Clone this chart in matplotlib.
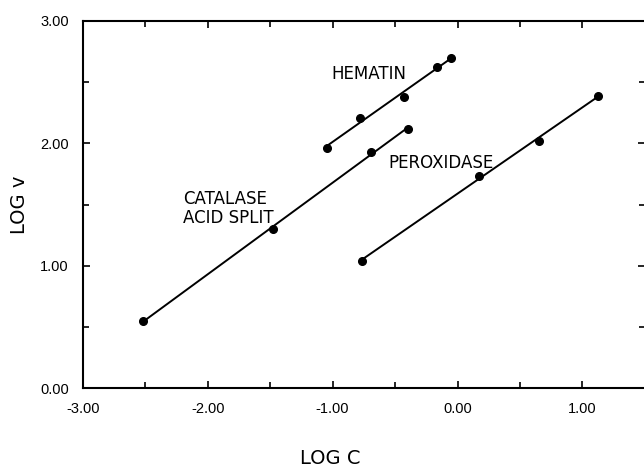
import matplotlib
matplotlib.use("Agg")
import matplotlib.pyplot as plt
import numpy as np
from matplotlib.ticker import MultipleLocator, FormatStrFormatter

plt.rcParams['font.family'] = ['Liberation Sans', 'DejaVu Sans']
plt.rcParams['axes.unicode_minus'] = False

# log C, log v
catalase_x = np.array([-2.52, -1.475, -0.69, -0.40])
catalase_y = np.array([0.55, 1.30, 1.93, 2.12])

hematin_x = np.array([-1.048, -0.782, -0.432, -0.168, -0.054])
hematin_y = np.array([1.964, 2.204, 2.378, 2.625, 2.694])

peroxidase_x = np.array([-0.766, 0.170, 0.650, 1.128])
peroxidase_y = np.array([1.042, 1.736, 2.021, 2.389])

fig = plt.figure(figsize=(6.44, 4.70), dpi=100)
ax = fig.add_axes([0.1284, 0.1738, 0.8731, 0.7821])

for x, y in [(catalase_x, catalase_y), (hematin_x, hematin_y), (peroxidase_x, peroxidase_y)]:
    m, b = np.polyfit(x, y, 1)
    xx = np.array([x.min(), x.max()])
    ax.plot(xx, m * xx + b, 'k-', lw=1.4)
    ax.plot(x, y, 'k.', ms=11)

lab = dict(fontsize=12, va='center', ha='left', family='DejaVu Sans')
ax.text(-1.006, 2.566, 'HEMATIN', **lab)
ax.text(-0.55, 1.842, 'PEROXIDASE', **lab)
ax.text(-2.198, 1.545, 'CATALASE', **lab)
ax.text(-2.198, 1.39, 'ACID SPLIT', **lab)

ax.set_xlim(-3.0, 1.5)
ax.set_ylim(0.0, 3.0)
ax.xaxis.set_major_locator(MultipleLocator(1.0))
ax.xaxis.set_minor_locator(MultipleLocator(0.5))
ax.yaxis.set_major_locator(MultipleLocator(1.0))
ax.yaxis.set_minor_locator(MultipleLocator(0.5))
ax.xaxis.set_major_formatter(FormatStrFormatter('%.2f'))
ax.yaxis.set_major_formatter(FormatStrFormatter('%.2f'))
ax.set_xticks([-3.0, -2.0, -1.0, 0.0, 1.0])
ax.tick_params(which='both', direction='in', top=True, right=True, width=1.2)
ax.tick_params(which='major', length=5, labelsize=10.5, pad=10)
ax.tick_params(which='minor', length=4)
for s in ax.spines.values():
    s.set_linewidth(1.5)
ax.spines['right'].set_visible(False)

ax.set_ylabel('LOG v', fontsize=14, family='DejaVu Sans')
ax.yaxis.set_label_coords(-0.095, 0.5)
fig.text(330 / 644, 1 - 459 / 470, 'LOG C', fontsize=14, ha='center', va='center',
         family='DejaVu Sans')

fig.savefig('out.png', dpi=100)
